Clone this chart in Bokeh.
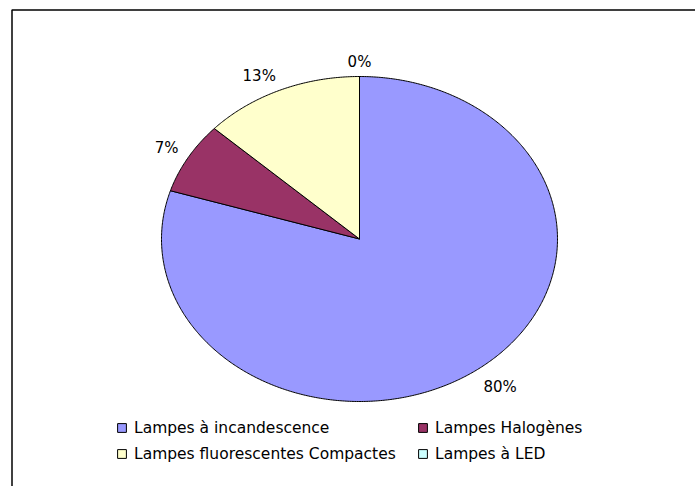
import numpy as np
from bokeh.plotting import figure
from bokeh.models import ColumnDataSource, Range1d, Legend, LegendItem
from bokeh.embed import file_html
from bokeh.resources import INLINE
from bokeh.core.properties import value

# ---- data ----
categories = ["Lampes à incandescence", "Lampes Halogènes",
              "Lampes fluorescentes Compactes", "Lampes à LED"]
shares = [79.8, 7.1, 13.1, 0.0]
colors = ["#9999FF", "#993366", "#FFFFCC", "#CCFFFF"]

# ---- layout constants (screen px, y up) ----
W, H = 695, 486
CX, CY = 359.0, 247.5
RX, RY = 198.0, 162.5
FONT = "DejaVu Sans"

p = figure(width=W, height=H, x_range=Range1d(0, W), y_range=Range1d(0, H),
           output_backend="svg", toolbar_location=None, min_border=0,
           x_axis_location=None, y_axis_location=None)
p.grid.visible = False
p.outline_line_color = None
p.background_fill_color = "white"
p.border_fill_color = "white"

# chart-area frame (top and left edges visible)
p.line(x=[11.5, 11.5, W + 5], y=[-5, 476.5, 476.5], line_color="black", line_width=1.5)

# ---- pie slices (elliptical) ----
total = float(sum(shares))
fr = np.array(shares) / total
ends = np.cumsum(fr)
starts = ends - fr
xs, ys = [], []
for s, e in zip(starts, ends):
    n = max(2, int(np.ceil((e - s) * 720)))
    t = np.linspace(s, e, n + 1) * 2 * np.pi
    xs.append([CX] + list(CX + RX * np.sin(t)))
    ys.append([CY] + list(CY + RY * np.cos(t)))

src = ColumnDataSource(dict(xs=xs, ys=ys, color=colors, label=categories))
r = p.patches("xs", "ys", source=src, fill_color="color", line_color="black",
              line_width=1)

# ---- percentage labels ----
for s, e, f in zip(starts, ends, fr):
    t = (s + e) / 2 * 2 * np.pi
    ux, uy = np.sin(t), np.cos(t)
    ex, ey = CX + RX * ux, CY + RY * uy
    ax, ay = ex + 11 * ux, ey + 10 * uy
    align = "left" if ux > 0.15 else ("right" if ux < -0.15 else "center")
    if uy > 0.15:
        base = "bottom"
        ay -= 4
    elif uy < -0.15:
        base = "top"
    else:
        base = "middle"
    p.text(x=[ax], y=[ay], text=["%d%%" % round(f * 100)],
           text_font=value(FONT), text_font_size="15px", text_color="black",
           text_align=value(align), text_baseline=value(base))

# ---- legend: two columns ----
def make_legend(idx, loc):
    lg = Legend(items=[LegendItem(label=categories[i], renderers=[r], index=i) for i in idx],
                location=loc, orientation="vertical",
                glyph_width=11, glyph_height=11, label_standoff=7,
                label_text_font=FONT, label_text_font_size="15.5px",
                label_text_color="black", label_height=9,
                spacing=8, padding=0, margin=0,
                border_line_color=None, background_fill_alpha=0)
    p.add_layout(lg, "center")
    return lg

make_legend([0, 2], (116, 23.5))
make_legend([1, 3], (417, 23.5))

open("out.html", "w").write(file_html(p, INLINE))
